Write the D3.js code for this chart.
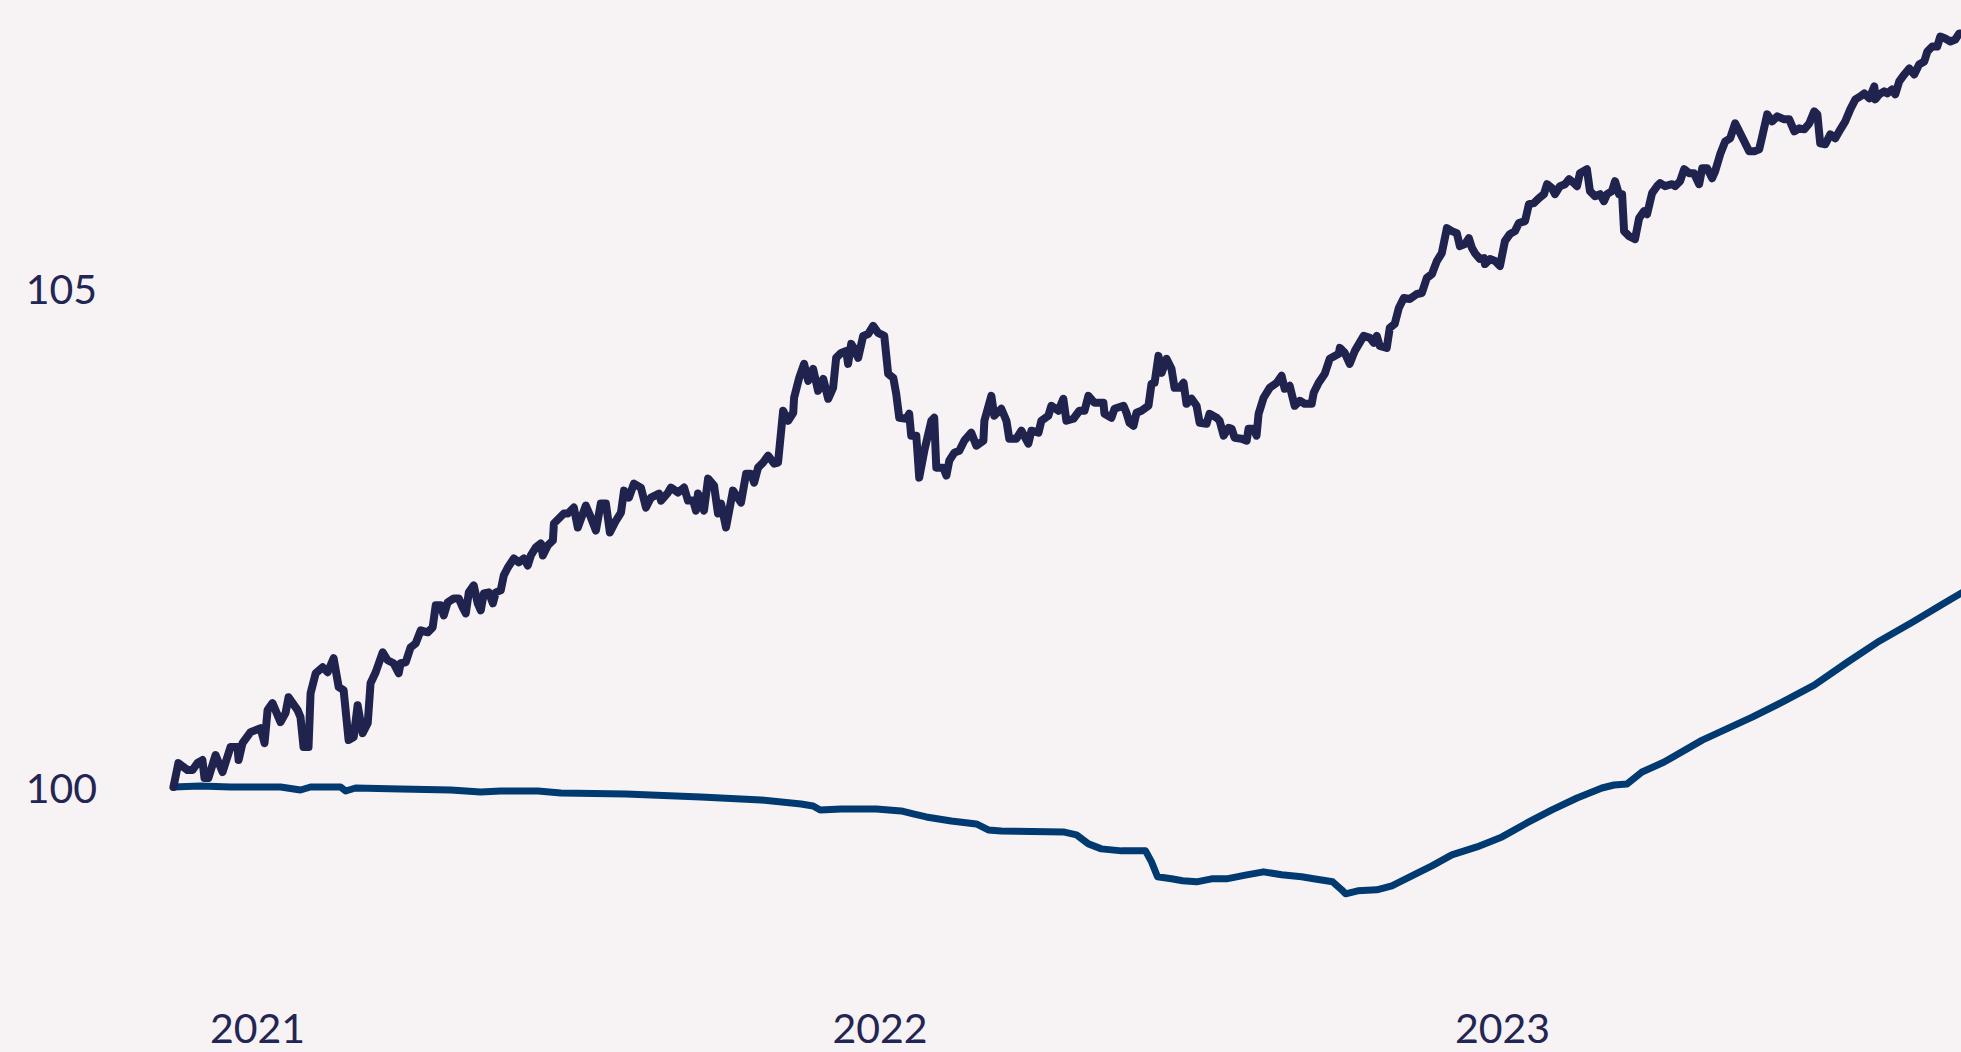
<!DOCTYPE html>
<html lang="en">
<head>
    <meta charset="UTF-8">
    <title>Index line chart</title>
    <script src="https://cdn.jsdelivr.net/npm/d3@7/dist/d3.min.js"></script>
    <style>
        html, body { margin: 0; padding: 0; background: #f7f3f4; overflow: hidden; }
        svg { display: block; }
    </style>
</head>
<body>
<svg id="main" width="1961" height="1052"></svg>
<script>
    // days counted from the first observation (13 Nov 2020)
    const startDate = new Date(2020, 10, 13);

    const topDays = [0, 2.9, 8.2, 11.2, 14.1, 17.0, 18.2, 20.5, 24.7, 28.8, 33.5, 37.6, 38.2, 40.5, 45.2, 51.1, 53.4, 55.2, 58.1, 62.8,
        65.7, 67.5, 72.8, 74.5, 76.3, 79.2, 80.4, 83.4, 87.5, 90.4, 93.9, 96.9, 99.8, 102.7, 105.7, 108.0, 110.9, 113.9, 115.6, 118.6,
        122.7, 125.6, 129.1, 132.1, 133.2, 136.2, 139.1, 142.1, 145.0, 149.1, 152.0, 153.8, 156.7, 158.5, 160.8, 164.4, 167.3, 169.6, 171.4, 173.2,
        176.1, 178.4, 180.2, 182.0, 184.9, 187.3, 189.0, 191.9, 193.7, 196.1, 199.6, 202.5, 205.5, 207.8, 209.6, 212.5, 215.4, 216.6, 219.5, 222.5,
        223.1, 226.0, 228.9, 231.3, 234.8, 237.1, 241.8, 244.8, 247.7, 250.6, 253.6, 255.9, 259.5, 262.4, 264.2, 267.1, 270.0, 274.1, 277.1, 280.0,
        284.7, 285.9, 290.0, 291.7, 295.8, 299.4, 301.7, 304.7, 306.4, 307.6, 309.3, 311.1, 313.5, 317.0, 319.3, 321.1, 324.0, 328.1, 332.8, 335.8,
        338.7, 340.5, 342.8, 345.7, 348.7, 352.2, 354.5, 357.5, 360.4, 363.4, 363.9, 366.9, 369.8, 372.2, 375.1, 378.0, 381.0, 383.9, 386.8, 388.6,
        391.5, 394.5, 395.6, 397.4, 399.2, 401.5, 404.4, 407.4, 410.3, 413.2, 416.8, 419.1, 422.1, 423.8, 425.6, 429.7, 431.4, 432.6, 435.6, 437.3,
        440.3, 444.4, 446.1, 447.3, 451.4, 453.2, 454.9, 457.9, 460.8, 463.7, 467.8, 470.8, 474.9, 475.5, 479.6, 481.3, 485.4, 488.4, 490.1, 494.3,
        497.2, 501.3, 503.1, 507.2, 508.9, 513.0, 514.8, 518.9, 521.8, 523.6, 527.7, 531.2, 534.2, 536.5, 540.0, 545.3, 545.9, 550.0, 551.8, 557.1,
        558.8, 560.6, 562.9, 564.7, 567.6, 571.7, 573.5, 575.3, 577.6, 579.4, 582.3, 585.2, 587.0, 590.0, 592.3, 594.0, 597.0, 599.9, 601.7, 605.8,
        607.5, 611.7, 613.4, 615.8, 618.7, 620.5, 622.2, 626.3, 629.3, 630.4, 633.4, 635.1, 636.3, 639.2, 642.8, 646.9, 649.8, 651.6, 654.5, 657.4,
        660.4, 663.3, 667.4, 668.6, 671.5, 675.1, 678.0, 683.3, 683.9, 686.8, 689.7, 692.7, 697.9, 701.5, 703.8, 705.6, 707.3, 711.4, 713.2, 716.1,
        718.5, 721.4, 724.9, 729.1, 732.0, 734.9, 737.9, 740.8, 743.7, 746.7, 749.6, 752.5, 754.3, 757.3, 759.6, 761.4, 763.1, 766.1, 768.4, 769.0,
        772.0, 774.9, 777.8, 780.7, 783.6, 786.6, 788.9, 792.5, 794.8, 797.7, 800.7, 803.6, 805.4, 808.3, 810.1, 813.0, 815.9, 818.3, 821.2, 823.0,
        824.7, 828.8, 830.6, 833.5, 836.5, 838.8, 840.6, 843.5, 845.3, 847.6, 849.4, 850.6, 853.5, 857.0, 859.4, 862.3, 864.1, 867.0, 869.9, 871.7,
        874.6, 878.7, 880.5, 883.4, 885.8, 888.7, 891.6, 894.6, 896.4, 899.3, 902.2, 904.0, 906.9, 909.9, 912.8, 915.7, 918.1, 921.0, 923.9, 926.9,
        929.8, 931.6, 934.5, 937.4, 940.4, 944.5, 947.4, 950.4, 953.3, 956.2, 959.2, 962.1, 963.9, 965.6, 968.6, 971.5, 974.4, 977.4, 980.3, 983.2,
        986.2, 989.1, 991.4, 994.4, 997.3, 997.9, 1000.2, 1003.1, 1004.9, 1007.8, 1009.6, 1011.9, 1014.9, 1017.8, 1020.7, 1023.6, 1026.6, 1028.4, 1031.3, 1034.2,
        1036.0, 1038.9, 1041.9, 1044.8, 1047.1, 1048.9];

    const topValues = [100.00, 100.24, 100.17, 100.17, 100.24, 100.27, 100.09, 100.09, 100.32, 100.15, 100.40, 100.40, 100.27, 100.44, 100.55, 100.59, 100.44, 100.77, 100.84, 100.65,
        100.74, 100.90, 100.77, 100.70, 100.40, 100.40, 100.94, 101.14, 101.20, 101.15, 101.29, 101.00, 100.97, 100.47, 100.50, 100.82, 100.54, 100.64, 101.04, 101.15,
        101.35, 101.27, 101.24, 101.14, 101.24, 101.25, 101.40, 101.44, 101.57, 101.55, 101.60, 101.82, 101.82, 101.72, 101.85, 101.89, 101.89, 101.80, 101.74, 101.95,
        102.02, 101.84, 101.77, 101.94, 101.95, 101.84, 101.95, 101.97, 102.12, 102.20, 102.29, 102.25, 102.29, 102.22, 102.32, 102.40, 102.44, 102.32, 102.42, 102.47,
        102.64, 102.69, 102.74, 102.74, 102.80, 102.60, 102.82, 102.70, 102.57, 102.84, 102.84, 102.55, 102.67, 102.75, 102.97, 102.90, 103.04, 103.00, 102.80, 102.90,
        102.94, 102.87, 102.95, 103.00, 102.95, 103.00, 102.87, 102.87, 102.77, 102.94, 102.87, 102.77, 103.09, 103.02, 102.74, 102.84, 102.60, 102.97, 102.85, 103.14,
        103.14, 103.05, 103.20, 103.25, 103.32, 103.24, 103.25, 103.77, 103.67, 103.75, 103.90, 104.10, 104.24, 104.07, 104.19, 103.97, 104.09, 103.89, 104.00, 104.30,
        104.35, 104.37, 104.24, 104.44, 104.39, 104.30, 104.52, 104.54, 104.62, 104.55, 104.52, 104.14, 104.10, 103.94, 103.70, 103.69, 103.74, 103.52, 103.52, 103.10,
        103.37, 103.67, 103.70, 103.20, 103.20, 103.12, 103.27, 103.35, 103.37, 103.47, 103.55, 103.42, 103.47, 103.67, 103.92, 103.72, 103.79, 103.67, 103.49, 103.49,
        103.57, 103.44, 103.57, 103.55, 103.67, 103.72, 103.82, 103.77, 103.89, 103.67, 103.69, 103.77, 103.77, 103.92, 103.85, 103.85, 103.74, 103.70, 103.79, 103.82,
        103.75, 103.65, 103.62, 103.75, 103.77, 103.82, 104.04, 104.05, 104.32, 104.15, 104.29, 104.19, 104.00, 104.00, 104.05, 103.84, 103.89, 103.82, 103.65, 103.64,
        103.74, 103.70, 103.67, 103.52, 103.60, 103.59, 103.50, 103.49, 103.47, 103.59, 103.59, 103.52, 103.74, 103.90, 104.00, 104.05, 104.12, 103.99, 104.02, 103.82,
        103.87, 103.84, 103.84, 103.95, 104.05, 104.14, 104.29, 104.34, 104.40, 104.35, 104.24, 104.37, 104.52, 104.50, 104.45, 104.52, 104.42, 104.40, 104.60, 104.64,
        104.80, 104.90, 104.89, 104.94, 104.95, 105.10, 105.14, 105.27, 105.35, 105.60, 105.57, 105.55, 105.42, 105.44, 105.50, 105.40, 105.35, 105.29, 105.30, 105.24,
        105.29, 105.27, 105.22, 105.47, 105.54, 105.57, 105.65, 105.67, 105.84, 105.85, 105.90, 105.94, 106.04, 106.00, 105.94, 106.02, 106.04, 106.09, 106.05, 106.02,
        106.15, 106.19, 105.97, 105.92, 105.94, 105.87, 105.94, 105.97, 106.07, 105.94, 105.94, 105.57, 105.52, 105.49, 105.70, 105.77, 105.74, 105.95, 106.02, 106.05,
        106.02, 106.04, 106.02, 106.07, 106.19, 106.15, 106.15, 106.04, 106.20, 106.20, 106.10, 106.17, 106.34, 106.47, 106.50, 106.65, 106.57, 106.47, 106.37, 106.37,
        106.39, 106.52, 106.74, 106.67, 106.72, 106.69, 106.69, 106.57, 106.60, 106.59, 106.65, 106.77, 106.74, 106.45, 106.44, 106.54, 106.50, 106.59, 106.67, 106.79,
        106.89, 106.92, 106.95, 106.90, 107.02, 106.89, 106.94, 106.97, 106.95, 106.99, 106.94, 107.07, 107.14, 107.20, 107.14, 107.24, 107.27, 107.37, 107.42, 107.42,
        107.52, 107.50, 107.47, 107.49, 107.55, 107.55];

    const bottomDays = [0, 15.8, 33.5, 62.8, 74.5, 80.4, 98.0, 101.0, 106.8, 133.2, 162.6, 180.2, 191.9, 213.7, 227.2, 265.3, 309.3, 344.6, 368.0, 375.1,
        379.2, 391.5, 412.1, 426.7, 433.8, 441.4, 456.1, 470.8, 477.8, 485.4, 521.8, 529.5, 536.5, 544.1, 555.9, 570.0, 573.5, 577.0, 585.2, 591.7,
        599.9, 608.7, 617.5, 629.3, 639.2, 649.8, 661.5, 668.6, 679.7, 685.0, 687.3, 694.4, 705.6, 714.4, 727.3, 737.9, 749.6, 764.3, 779.0, 793.6,
        808.3, 823.0, 837.6, 844.7, 852.3, 861.1, 874.1, 896.4, 925.7, 943.3, 962.1, 981.5, 999.1, 1019.6, 1037.2, 1048.9];

    const bottomValues = [100.00, 100.01, 100.00, 100.00, 99.97, 100.00, 100.00, 99.96, 99.99, 99.98, 99.97, 99.95, 99.96, 99.96, 99.94, 99.93, 99.90, 99.87, 99.83, 99.81,
        99.77, 99.78, 99.78, 99.76, 99.73, 99.70, 99.66, 99.63, 99.57, 99.56, 99.55, 99.52, 99.43, 99.38, 99.36, 99.36, 99.25, 99.10, 99.08, 99.06,
        99.05, 99.08, 99.08, 99.12, 99.15, 99.12, 99.10, 99.08, 99.05, 98.97, 98.93, 98.96, 98.97, 99.01, 99.12, 99.21, 99.32, 99.40, 99.50, 99.64,
        99.77, 99.89, 99.99, 100.02, 100.03, 100.15, 100.25, 100.47, 100.70, 100.85, 101.02, 101.25, 101.45, 101.65, 101.83, 101.95];

    const yTicks = [100, 105];
    const xTickYears = [2021, 2022, 2023];

    const seriesColors = ['#21234f', '#003a70'];
    const textColor = '#232552';

    let svg = d3.select('svg#main');

    let xScale = d3.scaleTime()
        .domain([new Date(2021, 0, 1), new Date(2023, 0, 1)])
        .range([257, 1502]);

    let yScale = d3.scaleLinear()
        .domain([100, 105])
        .range([787, 288]);

    const toDate = d => d3.timeHour.offset(startDate, Math.round(d * 24));

    let topData = topDays.map((d, i) => ({date: toDate(d), value: topValues[i]}));
    let bottomData = bottomDays.map((d, i) => ({date: toDate(d), value: bottomValues[i]}));

    let line = d3.line()
        .x(d => xScale(d.date))
        .y(d => yScale(d.value));

    // y axis, labels only
    let yAxis = d3.axisLeft(yScale)
        .tickValues(yTicks)
        .tickSize(0)
        .tickPadding(0)
        .tickFormat(d3.format('d'));

    let yg = svg.append('g')
        .attr('transform', 'translate(97,0)')
        .call(yAxis);
    yg.select('.domain').remove();
    yg.selectAll('text')
        .attr('fill', textColor)
        .attr('dy', '0.38em')
        .style('font-family', 'Lato, sans-serif')
        .style('font-size', '41px');

    // x axis, year labels only
    let xAxis = d3.axisBottom(xScale)
        .tickValues(xTickYears.map(y => new Date(y, 0, 1)))
        .tickSize(0)
        .tickPadding(0)
        .tickFormat(d3.timeFormat('%Y'));

    let xg = svg.append('g')
        .attr('transform', 'translate(0,1014)')
        .call(xAxis);
    xg.select('.domain').remove();
    xg.selectAll('text')
        .attr('fill', textColor)
        .attr('dy', '0.71em')
        .style('font-family', 'Lato, sans-serif')
        .style('font-size', '41px');

    svg.append('path')
        .datum(bottomData)
        .attr('fill', 'none')
        .attr('stroke', seriesColors[1])
        .attr('stroke-width', 7)
        .attr('stroke-linejoin', 'round')
        .attr('stroke-linecap', 'round')
        .attr('d', line);

    svg.append('path')
        .datum(topData)
        .attr('fill', 'none')
        .attr('stroke', seriesColors[0])
        .attr('stroke-width', 8)
        .attr('stroke-linejoin', 'round')
        .attr('stroke-linecap', 'round')
        .attr('d', line);
</script>
</body>
</html>
